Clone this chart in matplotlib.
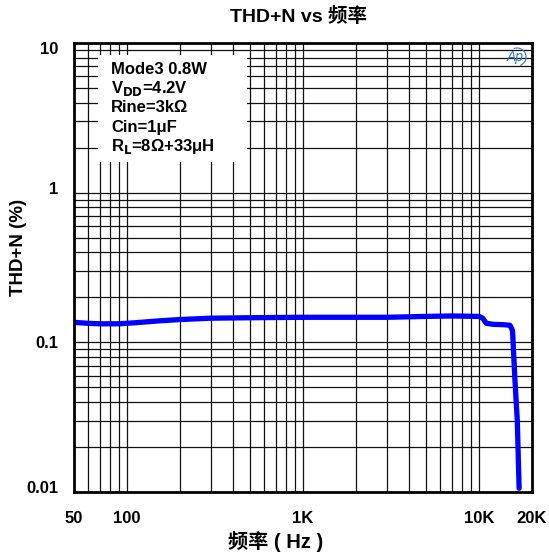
import numpy as np
import matplotlib
matplotlib.use("Agg")
import matplotlib.pyplot as plt
from matplotlib.ticker import FixedLocator, FixedFormatter, NullFormatter
from matplotlib.patches import Rectangle, Arc
from matplotlib.transforms import ScaledTranslation

plt.rcParams['font.family'] = ['Liberation Sans', 'Noto Sans CJK SC', 'DejaVu Sans']

# curve (Hz, %)
freq = [50, 60, 70, 90, 110, 150, 200, 300, 500, 1000, 2000, 3000, 5000, 7000,
        10000, 10500, 11000, 12000, 14000, 15000, 15500, 16000, 16500, 16900]
thd = [0.136, 0.134, 0.133, 0.133, 0.135, 0.139, 0.142, 0.145, 0.146, 0.147,
       0.147, 0.147, 0.149, 0.150, 0.149, 0.145, 0.134, 0.132, 0.131, 0.130,
       0.120, 0.056, 0.030, 0.0106]

x_ticks = [50, 100, 1000, 10000, 20000]
x_labels = ['50', '100', '1K', '10K', '20K']
y_ticks = [0.01, 0.1, 1, 10]
y_labels = ['0.01', '0.1', '1', '10']
notes = ['Mode3 0.8W', r'V$_{\mathbf{DD}}$=4.2V', 'Rine=3kΩ', 'Cin=1μF',
         r'R$_{\mathbf{L}}$=8Ω+33μH']

fig = plt.figure(figsize=(5.49, 5.59), dpi=100)
ax = fig.add_axes([74 / 549, 1 - 492 / 559, 458 / 549, 449 / 559])

ax.set_xscale('log')
ax.set_yscale('log')
ax.set_xlim(50, 20000)
ax.set_ylim(0.01, 10)

# grid: every log step in both directions
xgrid = [f for d in (10, 100, 1000, 10000) for f in np.arange(1, 10) * d if 50 < f < 20000]
ygrid = [v for d in (0.01, 0.1, 1) for v in np.arange(1, 10) * d if 0.01 < v < 10]
for g in xgrid:
    ax.axvline(g, color='#111111', lw=0.9, zorder=1)
for g in ygrid:
    ax.axhline(g, color='#111111', lw=0.9, zorder=1)

ax.plot(freq, thd, color='#0000ff', lw=3.8, solid_capstyle='round',
        solid_joinstyle='round', zorder=3)

ax.xaxis.set_major_locator(FixedLocator(x_ticks))
ax.xaxis.set_major_formatter(FixedFormatter(x_labels))
ax.xaxis.set_minor_formatter(NullFormatter())
ax.yaxis.set_major_locator(FixedLocator(y_ticks))
ax.yaxis.set_major_formatter(FixedFormatter(y_labels))
ax.yaxis.set_minor_formatter(NullFormatter())
ax.tick_params(which='both', length=0)
ax.tick_params(axis='x', pad=14, labelsize=12)
ax.tick_params(axis='y', pad=11, labelsize=12)
for lab in ax.get_xticklabels() + ax.get_yticklabels():
    lab.set_fontweight('bold')

# nudge y labels like the reference (pixels, + is up)
shifts = {'10': -5, '1': 5, '0.1': 0, '0.01': 5}
for lab in ax.get_yticklabels():
    dy = shifts.get(lab.get_text(), 0)
    lab.set_transform(lab.get_transform() + ScaledTranslation(0, dy / 100, fig.dpi_scale_trans))

for s in ax.spines.values():
    s.set_linewidth(2)
    s.set_zorder(5)

# white note box
box_x0 = (98 - 74) / 458
box_x1 = (247 - 74) / 458
box_y0 = (492 - 162) / 449
box_y1 = (492 - 55) / 449
ax.add_patch(Rectangle((box_x0, box_y0), box_x1 - box_x0, box_y1 - box_y0,
                       transform=ax.transAxes, facecolor='white',
                       edgecolor='none', zorder=2))
for i, t in enumerate(notes):
    ax.text((111 - 74) / 458, (492 - 69 - i * 19.5) / 449, t,
            transform=ax.transAxes, fontsize=12, fontweight='bold',
            va='center', ha='left', zorder=4)

# small "Ap" logo
ax.text((515 - 74) / 458, (492 - 57) / 449, 'Ap', transform=ax.transAxes,
        fontsize=10, style='italic', color='#2f78c4', ha='center', va='center',
        zorder=4)
ax.add_patch(Arc(((517 - 74) / 458, (492 - 57) / 449), 18 / 458, 18 / 449,
                 theta1=-70, theta2=110, transform=ax.transAxes,
                 color='#2f78c4', lw=0.8, zorder=4))

fig.text(298 / 549, 1 - 17 / 559, 'THD+N vs 频率', ha='center', va='center',
         fontsize=14, fontweight='bold')
fig.text(19 / 549, 1 - 247 / 559, 'THD+N (%)', ha='center', va='center',
         rotation=90, fontsize=13.5, fontweight='bold')
fig.text(276 / 549, 1 - 542 / 559, '频率 ( Hz )', ha='center', va='center',
         fontsize=14.5, fontweight='bold')

fig.savefig('out.png', dpi=100)
